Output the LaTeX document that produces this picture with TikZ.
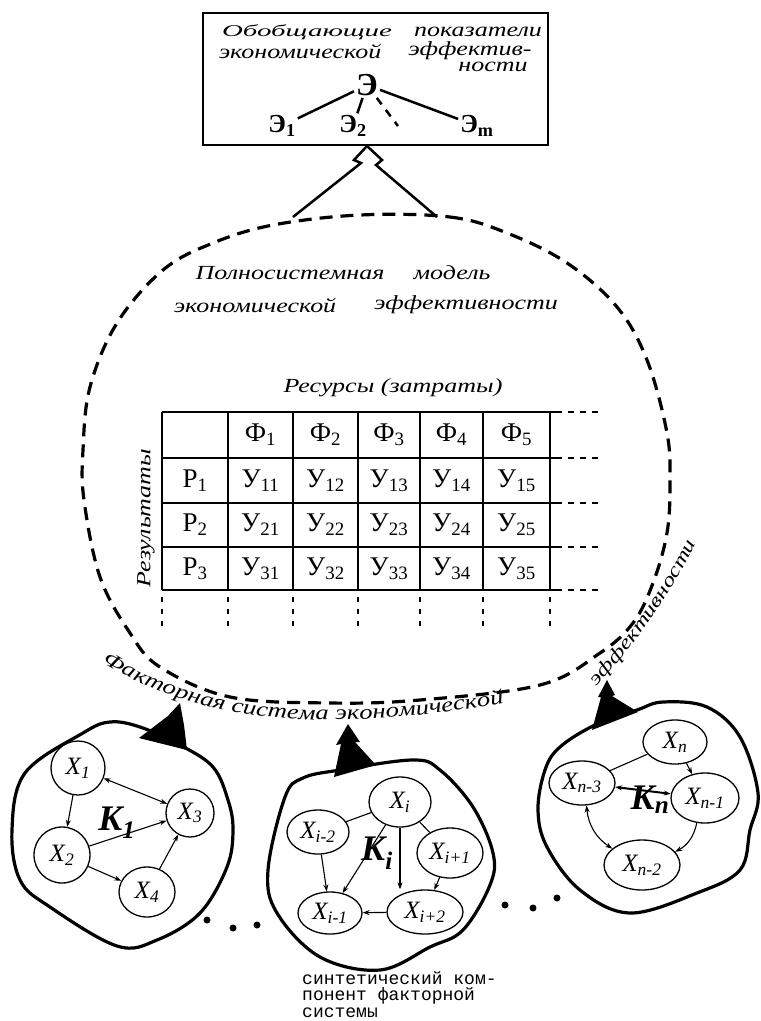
\documentclass[tikz,border=0pt]{standalone}
\usepackage{fontspec}
\setmainfont{Liberation Serif}
\newfontfamily\handfont[FakeStretch=1.3]{Liberation Serif}
\newfontfamily\handwide[FakeStretch=1.75]{Liberation Serif}
\newfontfamily\courfont{Liberation Mono}
\usetikzlibrary{arrows.meta,decorations.text,shapes.geometric}
\newcommand{\hw}{\handfont\itshape}
\tikzset{
  hand/.style={font={\hw\fontsize{20}{22}\selectfont}, inner sep=0},
  cell/.style={font={\fontsize{27}{29}\selectfont}, inner sep=0},
  fac/.style={draw, line width=1.3, ellipse, inner sep=0, font={\itshape\fontsize{25}{27}\selectfont}},
  link/.style={line width=1.1, -{Stealth[length=7pt,width=5pt]}},
  both/.style={line width=1.1, {Stealth[length=7pt,width=5pt]}-{Stealth[length=7pt,width=5pt]}},
  plain/.style={line width=1.1},
  outline/.style={line width=3.2},
  klabel/.style={font={\bfseries\itshape\fontsize{36}{38}\selectfont}, inner sep=0}
}

\begin{document}
\begin{tikzpicture}[x=1pt,y=-1pt]
\useasboundingbox (0,0) rectangle (761,1021);

% top box
\node[draw, line width=2.5, minimum width=345, minimum height=132, inner sep=0] (box) at (375.5,79) {};
\node[hand, font={\handwide\itshape\fontsize{16.5}{18}\selectfont}] (t1) at (307,32) {Обобщающие};
\node[hand] (t2) at (478,32) {показатели};
\node[hand] (t3) at (300,51) {экономической};
\node[hand] (t4) at (470,51) {эффектив-};
\node[hand] (t5) at (493,67) {ности};
\node[font={\bfseries\fontsize{32}{34}\selectfont}, inner sep=2] (E) at (367,85) {Э};
\node[font={\bfseries\fontsize{26}{28}\selectfont}, inner sep=2] (E1) at (282,126) {Э\textsubscript{1}};
\node[font={\bfseries\fontsize{26}{28}\selectfont}, inner sep=2] (E2) at (353,126) {Э\textsubscript{2}};
\node[font={\bfseries\fontsize{26}{28}\selectfont}, inner sep=2] (Em) at (477,126) {Э\textsubscript{m}};
\coordinate (Edots) at (398,126);
\draw[line width=2.5] (E) -- (E1);
\draw[line width=2.5] (E) -- (E2);
\draw[line width=2.5] (E) -- (Em);
\draw[line width=2.5, dash pattern=on 8pt off 7pt] (E) -- (Edots);

% lightning arrow into the box
\coordinate (apex) at (367,146);
\coordinate (bl) at (293,217);
\coordinate (br) at (437,217);
\draw[line width=2.5] (bl) -- (361,163) -- (354,160) -- (apex) -- (382,160) -- (376,165) -- (br);

% full system model
\draw[outline, dash pattern=on 13pt off 8pt] plot[smooth cycle, tension=0.6] coordinates {
  (360,215) (450,217) (507,233) (567,263) (617,307) (647,360) (667,433) (670,483)
  (667,533) (653,583) (633,623) (600,653) (540,685) (420,700) (330,703) (230,697)
  (160,667) (130,633) (100,577) (84,500) (83,450) (90,387) (117,323) (163,270)
  (213,243) (273,225)};
\node[hand] (m1) at (290,273) {Полносистемная};
\node[hand] (m2) at (452,273) {модель};
\node[hand] (m3) at (255,305) {экономической};
\node[hand] (m4) at (466,305) {эффективности};

% matrix
\node[hand] (res) at (393,388) {Ресурсы (затраты)};
\node[hand, rotate=90] (rez) at (146,518) {Результаты};
\foreach \y in {412,458,503,547,590} {
  \draw[line width=2.2] (162,\y) -- (562,\y);
  \draw[line width=2.2, dash pattern=on 6pt off 6pt] (568,\y) -- (598,\y);
}
\foreach \x in {162,228,293,358,420,483,550} {
  \draw[line width=2.2] (\x,412) -- (\x,590);
  \draw[line width=2, dash pattern=on 5pt off 7pt] (\x,597) -- (\x,628);
}
\foreach \x/\j in {260.5/1,325.5/2,389/3,451.5/4,516.5/5} {
  \node[cell] (f\j) at (\x,435) {Ф\textsubscript{\j}};
  \foreach \y/\i in {480.5/1,525/2,568.5/3}
    \node[cell] (u\i\j) at (\x,\y) {У\textsubscript{\i\j}};
}
\foreach \y/\i in {480.5/1,525/2,568.5/3}
  \node[cell] (p\i) at (195,\y) {Р\textsubscript{\i}};

% factor system caption along the bottom
\path[decorate, decoration={text along path, text align=left,
  text={|\hw\fontsize{20.5}{22}\selectfont|Факторная система экономической}}]
  (102,662) .. controls (170,705) and (250,720) .. (330,720)
  .. controls (420,719) and (480,708) .. (570,690);
\path[decorate, decoration={text along path, text align=center,
  text={|\hw\fontsize{19}{20}\selectfont|эффективности}}]
  (590,694) .. controls (630,650) and (670,600) .. (700,534);

% component K1
\draw[outline] plot[smooth cycle, tension=0.6] coordinates {(25,773) (83,733) (110,722)
  (140,727) (180,745) (213,767) (228,800) (233,830) (227,867) (200,913) (157,940)
  (117,946) (50,907) (20,880) (12,830)};
\fill (180,703) -- (184,725) -- (187,750) -- (139,738) -- (168,716) -- cycle;
\node[fac, circle, minimum size=54] (x1) at (78,768) {X\textsubscript{1}};
\node[fac, circle, minimum size=48] (x3) at (190,813) {X\textsubscript{3}};
\node[fac, circle, minimum size=56] (x2) at (62,855) {X\textsubscript{2}};
\node[fac, minimum width=56, minimum height=50] (x4) at (147,892) {X\textsubscript{4}};
\node[klabel] (k1) at (117,823) {K\textsubscript{1}};
\draw[link] (x1) -- (x2);
\draw[both] (x1) -- (x3);
\draw[link] (x2) -- (x3);
\draw[link] (x2) -- (x4);
\draw[link] (x4) -- (x3);

% component Ki
\draw[outline] plot[smooth cycle, tension=0.6] coordinates {(285,797) (303,778) (340,770)
  (413,760) (440,770) (473,807) (493,853) (490,885) (463,930) (430,947) (380,970)
  (320,957) (277,913) (268,870)};
\fill (348,724) -- (360,742) -- (355,742) -- (376,765) -- (334,777) -- (341,744) -- (336,745) -- cycle;
\node[fac, minimum width=62, minimum height=50] (xi) at (400,802) {X\textsubscript{i}};
\node[fac, minimum width=62, minimum height=44] (xim2) at (318,832) {X\textsubscript{i-2}};
\node[fac, minimum width=66, minimum height=50] (xip1) at (450,853) {X\textsubscript{i+1}};
\node[fac, minimum width=64, minimum height=42] (xim1) at (330,913) {X\textsubscript{i-1}};
\node[fac, minimum width=76, minimum height=44] (xip2) at (425,912) {X\textsubscript{i+2}};
\node[klabel] (ki) at (377,853) {K\textsubscript{i}};
\draw[plain] (xim2) -- (xi);
\draw[link] (xim2) -- (xim1);
\draw[link] (xi) -- (xim1);
\draw[link] (xi.south) -- (xi.south |- xip2.north);
\draw[plain] (xi) -- (xip1);
\draw[link] (xip1) -- (xip2);
\draw[link] (xip2) -- (xim1);

% component Kn
\draw[outline] plot[smooth cycle, tension=0.6] coordinates {(560,747) (595,725) (637,710)
  (663,702) (707,707) (740,737) (758,793) (750,830) (740,870) (697,893) (630,913)
  (580,890) (547,847) (538,810) (545,770)};
\fill (607,680) -- (615,695) -- (612,696) -- (638,712) -- (592,730) -- (601,697) -- (598,697) -- cycle;
\node[fac, minimum width=64, minimum height=44] (xn) at (675,742) {X\textsubscript{n}};
\node[fac, minimum width=66, minimum height=44] (xnm3) at (582,783) {X\textsubscript{n-3}};
\node[fac, minimum width=68, minimum height=50] (xnm1) at (705,798) {X\textsubscript{n-1}};
\node[fac, minimum width=76, minimum height=50] (xnm2) at (642,865) {X\textsubscript{n-2}};
\node[klabel] (kn) at (650,800) {K\textsubscript{n}};
\draw[plain] (xnm3) -- (xn);
\draw[both, line width=2] (xnm3) -- (xnm1);
\draw[link] (xn) -- (xnm1);
\draw[link] (xnm1) to[bend left=25] (xnm2);
\draw[both] (xnm3) to[bend right=25] (xnm2);

% dots between components
\foreach \p in {(207,920),(233,928),(257,925),(505,905),(533,908),(557,898)}
  \fill \p circle (3.5);

\node[font={\courfont\fontsize{18}{16.5}\selectfont}, align=left, anchor=north west, inner sep=0] (note) at (302,971)
  {синтетический ком-\\понент факторной\\системы};
\end{tikzpicture}
\end{document}
